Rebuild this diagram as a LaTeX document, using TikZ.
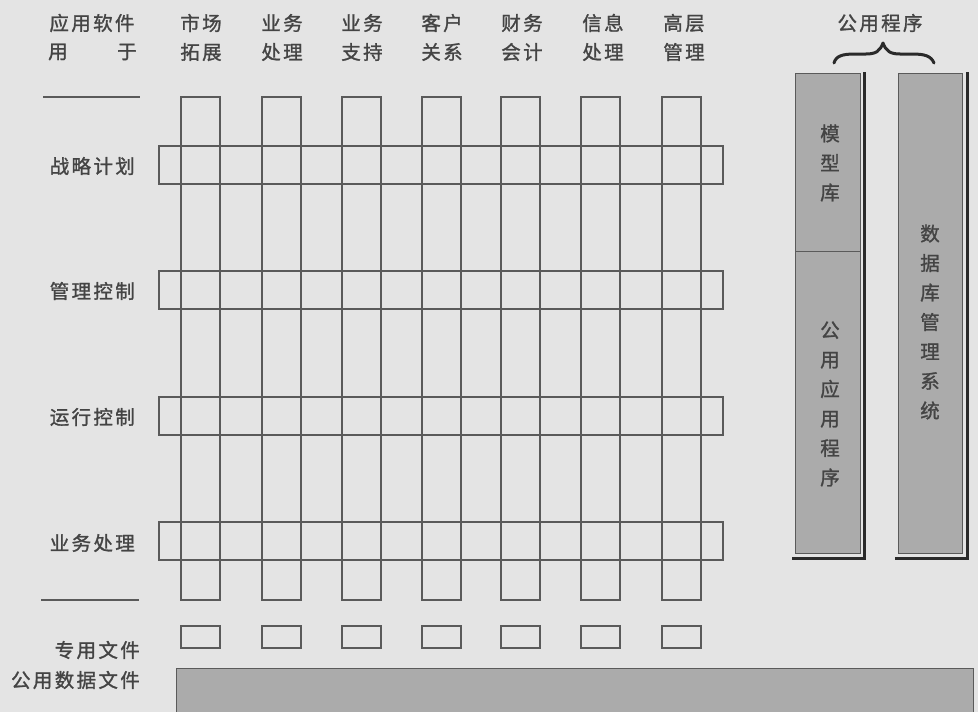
\documentclass[tikz,border=0pt]{standalone}
\usepackage{fontspec}
\newfontfamily\cjk[LetterSpace=12,FakeBold=1.3]{Noto Sans CJK SC}
\newfontfamily\cjkv[FakeBold=1.3]{Noto Sans CJK SC}
\definecolor{bg}{HTML}{E4E4E4}
\definecolor{ln}{HTML}{5A5A5A}
\definecolor{txt}{HTML}{444444}
\definecolor{fillg}{HTML}{ABABAB}
\definecolor{shadowc}{HTML}{2A2A2A}
\begin{document}
\begin{tikzpicture}[x=1pt,y=-1pt,
  box/.style={draw=ln,line width=1.1pt},
  panel/.style={draw=ln,fill=fillg,line width=0.8pt},
  shadowline/.style={draw=shadowc,line width=3pt},
  rule/.style={draw=ln,line width=1.6pt},
  bracestyle/.style={draw=shadowc,line width=3pt,line cap=round,line join=round},
  lbl/.style={font=\cjk\fontsize{19.5}{22}\selectfont,text=txt,inner sep=0pt},
  vlbl/.style={font=\cjkv\fontsize{19.5}{29.5}\selectfont,text=txt,inner sep=0pt,align=center}]
\fill[bg] (0,0) rectangle (978,712);
\useasboundingbox (0,0) rectangle (978,712);
\clip (0,0) rectangle (978,712);
% columns and private-file boxes
\foreach \x in {181,262,342,422,501,581,662}{
  \draw[box] (\x,97) rectangle ++(39,503);
  \draw[box] (\x,626) rectangle ++(39,22);
}
% horizontal bars
\foreach \y in {146,271,397,522}{
  \draw[box] (159,\y) rectangle (723,{\y+38});
}
% common data file bar
\draw[panel] (176,668) rectangle (973,730);
% left rules
\draw[rule] (43,97) -- (140,97);
\draw[rule] (41,600) -- (139,600);
% right panels
\draw[panel] (795,73) rectangle (860,553);
\draw[draw=ln,line width=1pt] (795,251) -- (860,251);
\draw[shadowline] (864,72) -- (864,558) -- (792,558);
\draw[panel] (898,73) rectangle (962,553);
\draw[shadowline] (967,72) -- (967,558) -- (895,558);
% brace
\draw[bracestyle] (834,63) .. controls (836,56) and (842,54) .. (855,54)
  -- (866,54) .. controls (876,54) and (880,51) .. (883,43)
  .. controls (886,51) and (890,54) .. (900,54)
  -- (912,54) .. controls (925,54) and (931,56) .. (934,63);
% header texts
\node[lbl] (h0a) at (92,23) {应用软件};
\node[lbl,anchor=west] (h0b) at (48,52) {用};
\node[lbl,anchor=east] (h0c) at (137,52) {于};
\node[lbl] (h1a) at (201,23) {市场};
\node[lbl] (h1b) at (201,52) {拓展};
\node[lbl] (h2a) at (282,23) {业务};
\node[lbl] (h2b) at (282,52) {处理};
\node[lbl] (h3a) at (362,23) {业务};
\node[lbl] (h3b) at (362,52) {支持};
\node[lbl] (h4a) at (442,23) {客户};
\node[lbl] (h4b) at (442,52) {关系};
\node[lbl] (h5a) at (522,23) {财务};
\node[lbl] (h5b) at (522,52) {会计};
\node[lbl] (h6a) at (603,23) {信息};
\node[lbl] (h6b) at (603,52) {处理};
\node[lbl] (h7a) at (684,23) {高层};
\node[lbl] (h7b) at (684,52) {管理};
\node[lbl] (pub) at (880,23) {公用程序};
% row labels
\node[lbl,anchor=east] (r1) at (135,166) {战略计划};
\node[lbl,anchor=east] (r2) at (135,291) {管理控制};
\node[lbl,anchor=east] (r3) at (135,417) {运行控制};
\node[lbl,anchor=east] (r4) at (135,543) {业务处理};
\node[lbl,anchor=east] (f1) at (140,650) {专用文件};
\node[lbl,anchor=east] (f2) at (140,680) {公用数据文件};
% vertical labels
\node[vlbl] (mx) at (830,163) {模\\型\\库};
\node[vlbl] (gy) at (830,404) {公\\用\\应\\用\\程\\序};
\node[vlbl] (sj) at (930,322) {数\\据\\库\\管\\理\\系\\统};
\end{tikzpicture}
\end{document}
